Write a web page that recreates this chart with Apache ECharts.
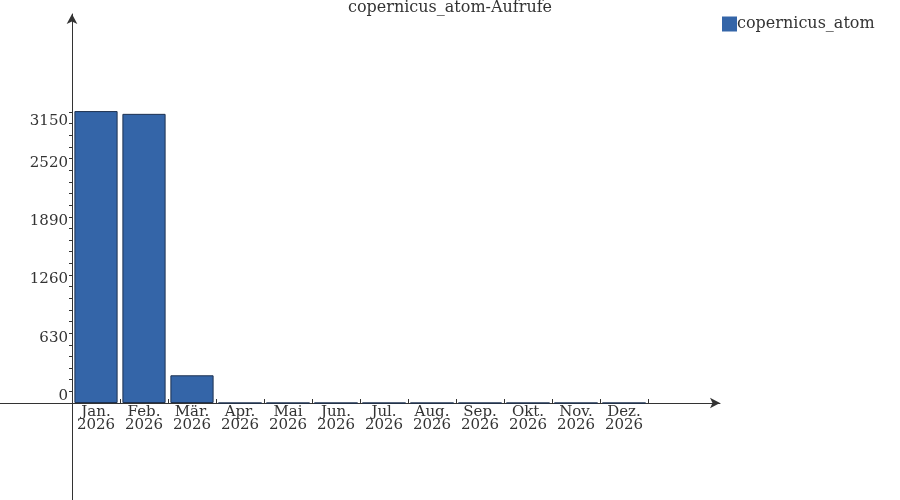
<!DOCTYPE html>
<html>
<head>
<meta charset="utf-8">
<script src="https://cdn.jsdelivr.net/npm/echarts@6/dist/echarts.min.js"></script>
<style>
    html, body { margin: 0; padding: 0; background: #fff; }
    #chart { width: 900px; height: 500px; }
</style>
</head>
<body>
<div id="chart"></div>
<script>
// Daten
var months = ['Jan.', 'Feb.', 'Mär.', 'Apr.', 'Mai', 'Jun.', 'Jul.', 'Aug.', 'Sep.', 'Okt.', 'Nov.', 'Dez.'];
var year = '2026';
var aufrufe = [3160, 3130, 300, 0, 0, 0, 0, 0, 0, 0, 0, 0];
var yMax = 3150;
var yStep = 630;

var font = 'DejaVu Serif';
var ink = '#333333';

var chart = echarts.init(document.getElementById('chart'));

var option = {
    animation: false,
    title: {
        text: 'copernicus_atom-Aufrufe',
        left: 'center',
        top: 0,
        padding: 0,
        textStyle: { fontFamily: font, fontSize: 16, fontWeight: 'normal', color: ink }
    },
    legend: {
        data: ['copernicus_atom'],
        left: 722,
        top: 16,
        padding: 0,
        itemWidth: 15,
        itemHeight: 15,
        icon: 'rect',
        itemStyle: { borderWidth: 0 },
        textStyle: { fontFamily: font, fontSize: 16, color: ink, padding: [0, 0, 0, -5] }
    },
    // grid 0: die Balken, grid 1: die Achsenkreuz-Linien mit Pfeilen
    grid: [
        { left: 72, width: 576, top: 112, bottom: 97 },
        { left: 0, width: 720, top: 14, bottom: 0 }
    ],
    xAxis: [
        {
            type: 'category',
            gridIndex: 0,
            data: months,
            axisLine: { show: false },
            axisTick: { show: true, inside: true, length: 4, lineStyle: { color: ink } },
            axisLabel: {
                fontFamily: font, fontSize: 15, color: ink, lineHeight: 13, margin: 3,
                interval: 0,
                formatter: function (m) { return m + '\n' + year; }
            }
        },
        {
            type: 'value',
            gridIndex: 1,
            min: -72,
            max: 648,
            axisLine: { show: true, symbol: ['none', 'arrow'], symbolSize: [8, 10], lineStyle: { color: ink, width: 1 } },
            axisTick: { show: false },
            axisLabel: { show: false },
            splitLine: { show: false }
        }
    ],
    yAxis: [
        {
            type: 'value',
            gridIndex: 0,
            min: 0,
            max: yMax,
            interval: yStep,
            axisLine: { show: false },
            axisTick: { show: true, length: 3, lineStyle: { color: ink } },
            minorTick: { show: true, splitNumber: 5, length: 3, lineStyle: { color: ink } },
            splitLine: { show: false },
            axisLabel: {
                margin: 4,
                verticalAlign: 'middle',
                formatter: function (v) {
                    return v === yMax ? '{lo|' + v + '}' : '{hi|' + v + '}';
                },
                rich: {
                    hi: { fontFamily: font, fontSize: 15, color: ink, padding: [0, 0, 14, 0] },
                    lo: { fontFamily: font, fontSize: 15, color: ink, padding: [18, 0, 0, 0] }
                }
            }
        },
        {
            type: 'value',
            gridIndex: 1,
            min: -97,
            max: 389,
            axisLine: { show: true, symbol: ['none', 'arrow'], symbolSize: [8, 10], lineStyle: { color: ink, width: 1 } },
            axisTick: { show: false },
            axisLabel: { show: false },
            splitLine: { show: false }
        }
    ],
    series: [
        {
            name: 'copernicus_atom',
            type: 'bar',
            xAxisIndex: 0,
            yAxisIndex: 0,
            data: aufrufe,
            barCategoryGap: '10%',
            clip: false,
            itemStyle: { color: '#3465a8', borderColor: '#1e3251', borderWidth: 1, borderRadius: 0 }
        }
    ]
};

chart.setOption(option);
</script>
</body>
</html>
